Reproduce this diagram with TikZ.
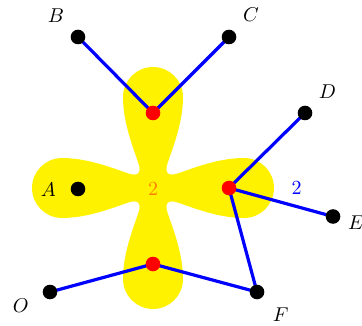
\documentclass[tikz,border=0pt]{standalone}
\usetikzlibrary{backgrounds}
\begin{document}
\begin{tikzpicture}[x=0.5pt,y=0.5pt,
  blackdot/.style={circle,fill=black,inner sep=0pt,minimum size=7.3pt},
  reddot/.style={circle,fill=red,inner sep=0pt,minimum size=7.3pt},
  blueedge/.style={blue,line width=1.6pt},
  lbl/.style={inner sep=0pt}]
\useasboundingbox (-153,-137) rectangle (209,188);
% vertices
\node[reddot] (r1) at (0,75) {};
\node[reddot] (r2) at (76,0) {};
\node[reddot] (r3) at (0,-76) {};
\node[blackdot] (A) at (-75,-1) {};
\node[blackdot] (B) at (-75,151) {};
\node[blackdot] (C) at (76,151) {};
\node[blackdot] (D) at (152,75) {};
\node[blackdot] (E) at (180,-28.5) {};
\node[blackdot] (F) at (104,-104) {};
\node[blackdot] (O) at (-103,-104) {};
% labels
\node[lbl] (lA) at (-104.7,-1.3) {$A$};
\node[lbl] (lB) at (-97,172) {$B$};
\node[lbl] (lC) at (98,173) {$C$};
\node[lbl] (lD) at (174.3,96.3) {$D$};
\node[lbl] (lE) at (203,-35) {$E$};
\node[lbl] (lF) at (127.7,-127) {$F$};
\node[lbl] (lO) at (-132.3,-118) {$O$};
\node[lbl,text=orange] (n1) at (0,-1) {$2$};
\node[lbl,text=blue] (n2) at (143.7,-0.5) {$2$};
\begin{scope}[on background layer]
  \foreach \a in {0,90,180,270}
    \fill[yellow,rotate=\a] (0,0) -- (13.5,-21) .. controls (12,-15.5) and (15.5,-12) .. (21,-13.5)
      .. controls (34,-17) and (62,-30) .. (91,-30)
      arc[start angle=-90,end angle=90,radius=30]
      .. controls (62,30) and (34,17) .. (21,13.5)
      .. controls (15.5,12) and (12,15.5) .. (13.5,21) -- cycle;
  \draw[blueedge] (B.center) -- (r1.center);
  \draw[blueedge] (C.center) -- (r1.center);
  \draw[blueedge] (D.center) -- (r2.center);
  \draw[blueedge] (E.center) -- (r2.center);
  \draw[blueedge] (F.center) -- (r2.center);
  \draw[blueedge] (O.center) -- (r3.center);
  \draw[blueedge] (F.center) -- (r3.center);
\end{scope}
\end{tikzpicture}
\end{document}
